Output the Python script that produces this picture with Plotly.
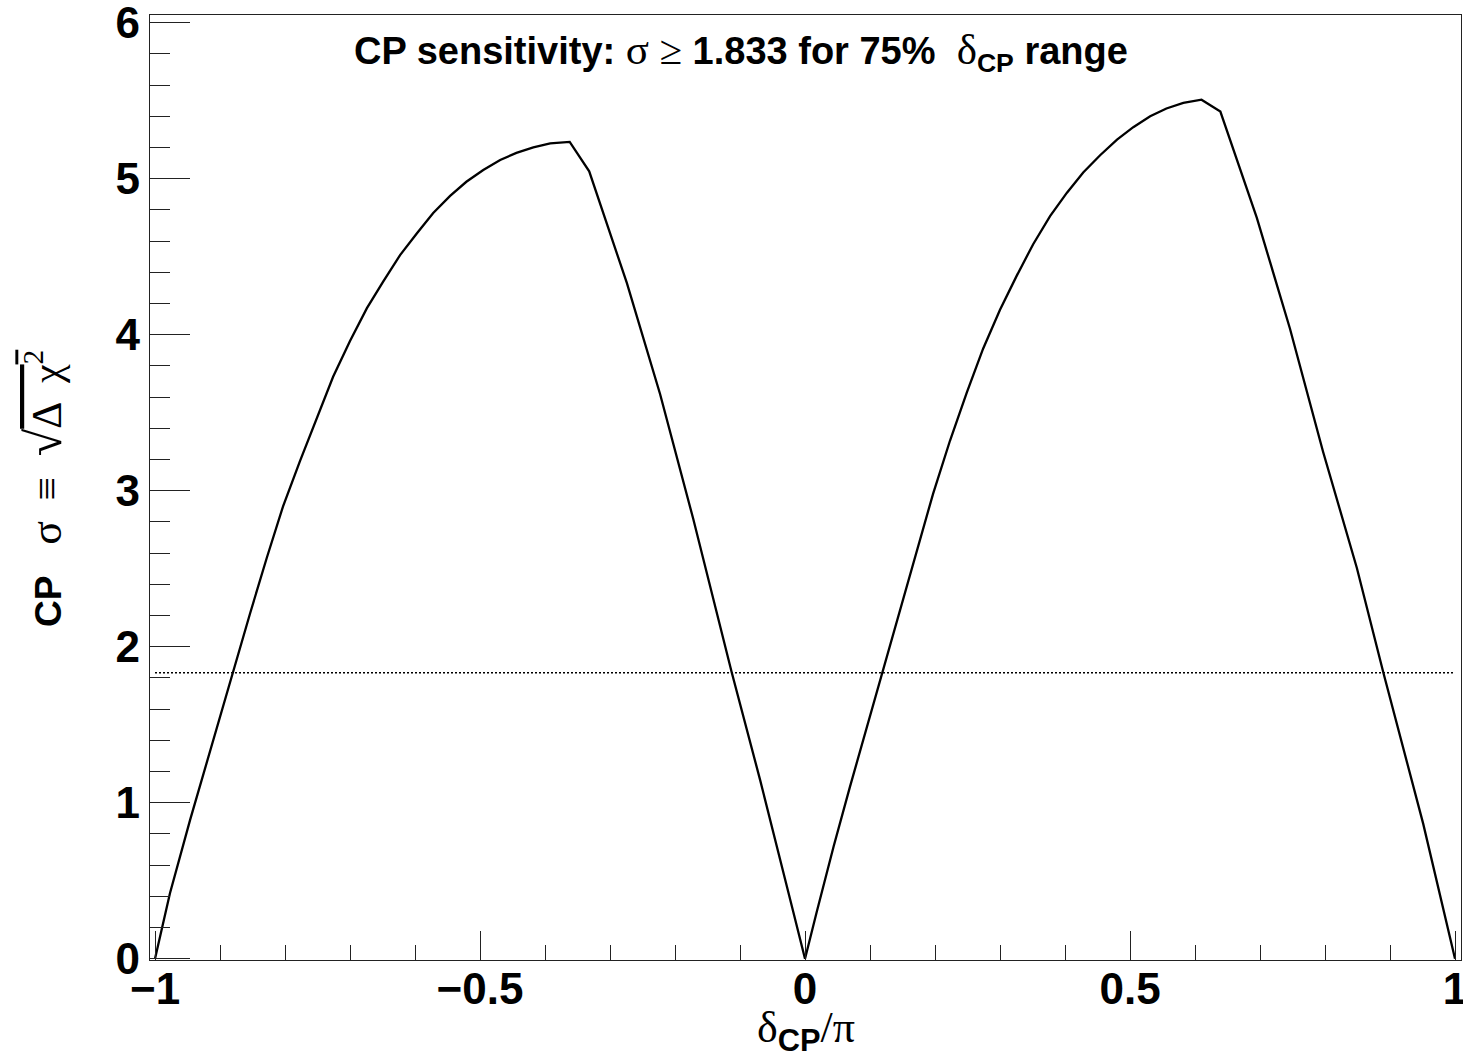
import plotly.graph_objects as go

# delta_CP / pi sample points
x_dcp = [-1.0, -0.977, -0.946, -0.926, -0.905, -0.880, -0.854, -0.828, -0.803, -0.777,
         -0.751, -0.726, -0.700, -0.674, -0.649, -0.623, -0.597, -0.572, -0.546, -0.521,
         -0.495, -0.469, -0.444, -0.418, -0.392, -0.362, -0.332, -0.274, -0.223, -0.172,
         -0.113, -0.069, -0.018, 0.0,
         0.018, 0.044, 0.069, 0.095, 0.121, 0.146, 0.172, 0.197, 0.223, 0.249,
         0.274, 0.300, 0.326, 0.351, 0.377, 0.403, 0.428, 0.454, 0.480, 0.505,
         0.531, 0.556, 0.582, 0.610, 0.639, 0.695, 0.746, 0.797, 0.849, 0.890,
         0.951, 1.0]
# CP sigma = sqrt(delta chi^2)
sigma = [0.0, 0.42, 0.89, 1.18, 1.48, 1.84, 2.21, 2.57, 2.90, 3.19,
         3.47, 3.73, 3.96, 4.17, 4.34, 4.51, 4.65, 4.78, 4.89, 4.98,
         5.055, 5.12, 5.165, 5.20, 5.226, 5.236, 5.047, 4.33, 3.62, 2.82,
         1.84, 1.145, 0.30, 0.0,
         0.30, 0.72, 1.10, 1.48, 1.87, 2.24, 2.62, 2.98, 3.32, 3.63,
         3.91, 4.16, 4.38, 4.58, 4.76, 4.91, 5.04, 5.15, 5.25, 5.33,
         5.40, 5.45, 5.485, 5.506, 5.43, 4.75, 4.04, 3.25, 2.505, 1.83,
         0.866, 0.0]

threshold = 1.833
x_thr = [-1.0, 1.0]
y_thr = [threshold, threshold]

x_ticks = [-1, -0.5, 0, 0.5, 1]
x_ticktext = ["\u22121", "\u22120.5", "0", "0.5", "1"]
y_ticks = [0, 1, 2, 3, 4, 5, 6]

SERIF = "Liberation Serif"
SANS = "Liberation Sans"


def sym(s, size=None):
    st = f"font-family:{SERIF};font-weight:normal"
    if size:
        st += f";font-size:{size}px"
    return f"<span style='{st}'>{s}</span>"


fig = go.Figure()
fig.add_trace(go.Scatter(x=x_thr, y=y_thr, mode="lines",
                         line=dict(color="black", width=1.3, dash="2px,2px"),
                         hoverinfo="skip", showlegend=False))
fig.add_trace(go.Scatter(x=x_dcp, y=sigma, mode="lines",
                         line=dict(color="black", width=2.3),
                         showlegend=False))

axis_common = dict(
    showgrid=False, zeroline=False, showline=True, mirror=True,
    linecolor="#222222", linewidth=1.3,
    ticks="inside", tickcolor="#222222", tickwidth=1.2,
    ticklabeloverflow="allow", automargin=False,
    tickfont=dict(family=SANS, size=44, color="black", weight="bold"),
)

fig.update_layout(
    width=1463, height=1061,
    margin=dict(l=150, r=2, t=15, b=101, autoexpand=False),
    paper_bgcolor="white", plot_bgcolor="white",
    xaxis=dict(range=[-1.0077, 1.0092], tickmode="array", tickvals=x_ticks,
               ticktext=x_ticktext, ticklen=29,
               ticklabelstandoff=-10,
               minor=dict(dtick=0.1, ticklen=15, ticks="inside", tickcolor="#222222", tickwidth=1.2),
               **axis_common),
    yaxis=dict(range=[-0.008, 6.049], tickmode="array", tickvals=y_ticks,
               ticktext=[str(v) for v in y_ticks], ticklen=40,
               minor=dict(dtick=0.2, ticklen=20, ticks="inside", tickcolor="#222222", tickwidth=1.2),
               **axis_common),
    showlegend=False,
)

title_text = ("<b>CP sensitivity:</b> " + sym("σ", 43) + " " + sym("≥", 41) +
              " <b>1.833 for 75%</b>  " + sym("δ", 43) + "<sub><b>CP</b></sub> <b>range</b>")
fig.add_annotation(text=title_text, xref="paper", yref="paper",
                   x=(741 - 150) / 1311, y=(960 - 52) / 945,
                   xanchor="center", yanchor="middle", showarrow=False,
                   font=dict(family=SANS, size=38, color="black"))

ytitle = ("<b>CP</b>   " + sym("σ", 44) + "  " + sym("≡", 42) + "  " + sym("√", 50) +
          "<span style='font-family:" + SERIF + ";font-weight:normal;font-size:42px;"
          "text-decoration:overline'>Δ  χ<sup>2</sup></span>")
fig.add_annotation(text=ytitle, xref="paper", yref="paper",
                   x=(44 - 150) / 1311, y=(960 - 489) / 945, textangle=-90,
                   xanchor="center", yanchor="middle", showarrow=False,
                   font=dict(family=SANS, size=37, color="black"))

xtitle = sym("δ") + "<sub><b>CP</b></sub>" + sym("/π")
fig.add_annotation(text=xtitle, xref="paper", yref="paper",
                   x=0.5, y=(960 - 1030) / 945,
                   xanchor="center", yanchor="middle", showarrow=False,
                   font=dict(family=SANS, size=44, color="black"))

fig.write_html("out.html")
